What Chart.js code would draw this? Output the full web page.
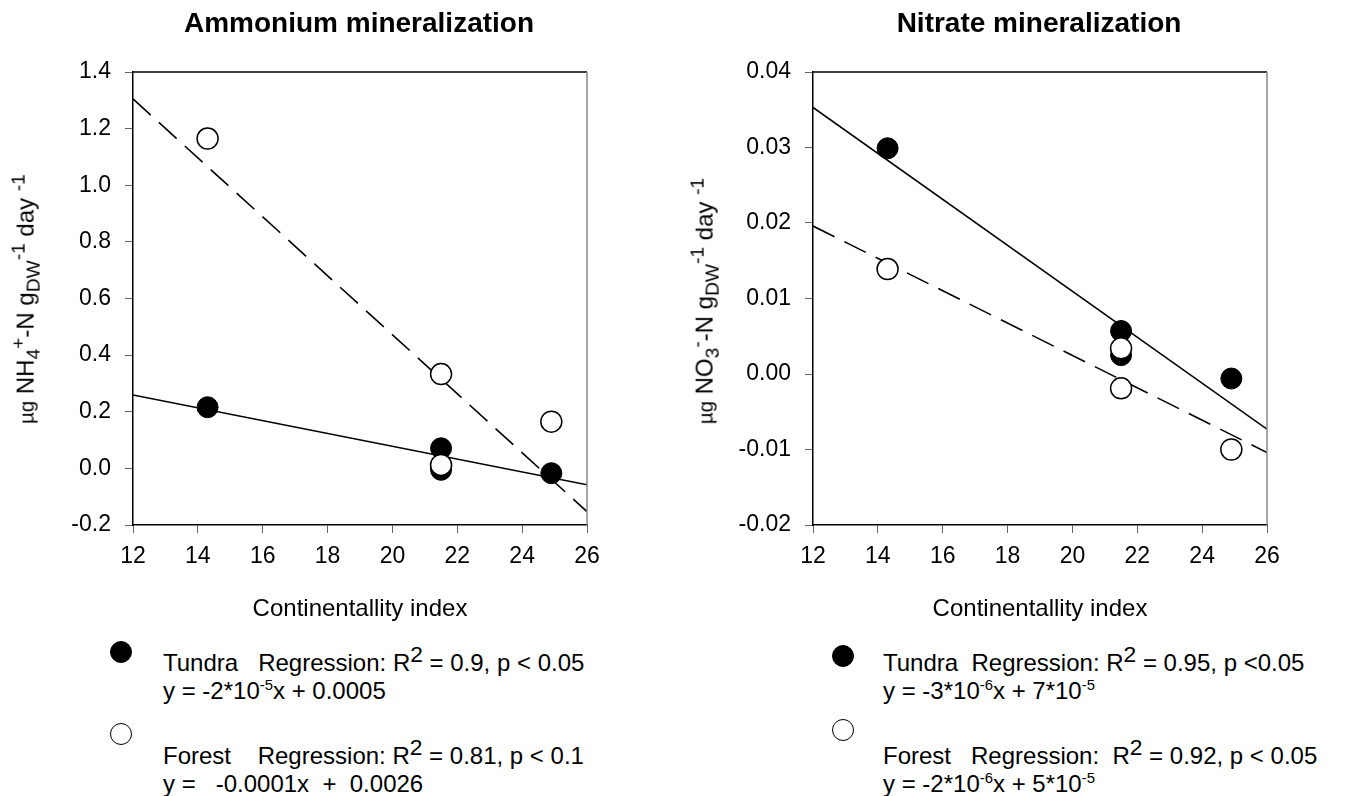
<!DOCTYPE html>
<html>
<head>
<meta charset="utf-8">
<script src="https://cdn.jsdelivr.net/npm/chart.js@4.4.1/dist/chart.umd.min.js"></script>
<style>
  body { margin: 0; background: #fff; font-family: Arial, "Liberation Sans", sans-serif; color: #000; }
  #page { position: relative; width: 1353px; height: 796px; overflow: hidden; }
  .panel { position: absolute; top: 0; width: 676px; height: 628px; }
  .titulo { position: absolute; top: 7px; font-weight: bold; font-size: 28px; transform: translateX(-50%); white-space: nowrap; }
  .ytitle { position: absolute; font-size: 24px; white-space: nowrap; transform: translate(-50%, -50%) rotate(-90deg); }
  .ytitle sub, .ytitle sup { font-size: 0.8em; }
  .mu { font-size: 0.85em; }
  .leyenda { position: absolute; font-size: 24px; line-height: 28px; white-space: nowrap; }
  .leyenda sup { font-size: 0.62em; line-height: 0; }
  .leyenda sup.big { font-size: 0.95em; }
  .marca { position: absolute; width: 20px; height: 20px; border-radius: 50%; border: 1.5px solid #000; transform: translate(-50%, -50%); }
</style>
</head>
<body>
<div id="page">
  <div class="panel" style="left:0"><canvas id="graficaNH4"></canvas></div>
  <div class="panel" style="left:680px"><canvas id="graficaNO3"></canvas></div>

  <div class="titulo" style="left:359px">Ammonium mineralization</div>
  <div class="titulo" style="left:1039px">Nitrate mineralization</div>

  <div class="ytitle" style="left:26px; top:299px"><span class="mu">µg</span> NH<sub>4</sub><sup>+</sup>-N g<sub>DW</sub><sup>-1</sup> day <sup>-1</sup></div>
  <div class="ytitle" style="left:705px; top:301px"><span class="mu">µg</span> NO<sub>3</sub><sup>-</sup>-N g<sub>DW</sub><sup>-1</sup> day <sup>-1</sup></div>

  <div class="marca" style="left:121px; top:652px; background:#000"></div>
  <div class="leyenda" style="left:163px; top:649px">Tundra&nbsp;&nbsp; Regression: R<sup class="big">2</sup> = 0.9, p &lt; 0.05<br>y = -2*10<sup>-5</sup>x + 0.0005</div>
  <div class="marca" style="left:121px; top:734px; background:#fff"></div>
  <div class="leyenda" style="left:163px; top:742px">Forest&nbsp;&nbsp;&nbsp; Regression: R<sup class="big">2</sup> = 0.81, p &lt; 0.1<br>y = &nbsp;&nbsp;-0.0001x &nbsp;+ &nbsp;0.0026</div>

  <div class="marca" style="left:843px; top:656px; background:#000"></div>
  <div class="leyenda" style="left:883px; top:649px">Tundra&nbsp; Regression: R<sup class="big">2</sup> = 0.95, p &lt;0.05<br>y = -3*10<sup>-6</sup>x + 7*10<sup>-5</sup></div>
  <div class="marca" style="left:843px; top:730px; background:#fff"></div>
  <div class="leyenda" style="left:883px; top:742px">Forest&nbsp;&nbsp; Regression:&nbsp; R<sup class="big">2</sup> = 0.92, p &lt; 0.05<br>y = -2*10<sup>-6</sup>x + 5*10<sup>-5</sup></div>
</div>

<script>
// indice de continentalidad de cada sitio
const xSitios = [14.3, 21.5, 21.5, 24.9];

// amonio (ug NH4+-N gDW-1 dia-1)
const nh4Tundra = [0.216, 0.071, -0.005, -0.017];
const nh4Bosque = [1.165, 0.333, 0.012, 0.165];

// nitrato (ug NO3--N gDW-1 dia-1)
const no3Tundra = [0.0299, 0.0057, 0.0025, -0.0006];
const no3Bosque = [0.0139, 0.0034, -0.0019, -0.0100];

const xRecta = [12, 26];
const nh4RectaTundra = [0.259, -0.058];
const nh4RectaBosque = [1.305, -0.153];
const no3RectaTundra = [0.0353, -0.0073];
const no3RectaBosque = [0.0196, -0.0104];

Chart.defaults.font.family = 'Arial, "Liberation Sans", sans-serif';
Chart.defaults.color = '#000';

const marco = {
    id: 'marco',
    afterDraw(chart) {
        const a = chart.chartArea;
        const c = chart.ctx;
        c.save();
        c.lineWidth = 1.5;
        c.strokeStyle = '#000';
        c.beginPath();
        c.moveTo(a.left, a.top);
        c.lineTo(a.right, a.top);
        c.stroke();
        c.strokeStyle = '#888';
        c.beginPath();
        c.moveTo(a.right, a.top);
        c.lineTo(a.right, a.bottom);
        c.stroke();
        c.restore();
    }
};

function puntos(xs, ys) {
    return xs.map((x, i) => ({ x: x, y: ys[i] }));
}

function crearGrafica(id, tundra, bosque, rectaTundra, rectaBosque, yMin, yMax, paso, decimales) {
    const ctx = document.getElementById(id).getContext('2d');
    return new Chart(ctx, {
        type: 'scatter',
        data: {
            datasets: [
                {
                    label: 'Forest',
                    data: puntos(xSitios, bosque),
                    pointRadius: 10.5,
                    pointBackgroundColor: '#fff',
                    pointBorderColor: '#000',
                    pointBorderWidth: 1.5,
                    order: 1
                },
                {
                    label: 'Tundra',
                    data: puntos(xSitios, tundra),
                    pointRadius: 10.5,
                    pointBackgroundColor: '#000',
                    pointBorderColor: '#000',
                    pointBorderWidth: 1,
                    order: 2
                },
                {
                    label: 'Forest regression',
                    data: puntos(xRecta, rectaBosque),
                    showLine: true,
                    pointRadius: 0,
                    borderColor: '#000',
                    borderWidth: 1.6,
                    borderDash: [24, 11],
                    order: 3
                },
                {
                    label: 'Tundra regression',
                    data: puntos(xRecta, rectaTundra),
                    showLine: true,
                    pointRadius: 0,
                    borderColor: '#000',
                    borderWidth: 1.6,
                    order: 4
                }
            ]
        },
        options: {
            responsive: true,
            maintainAspectRatio: false,
            animation: false,
            layout: { padding: { top: 72, right: 89, left: 0, bottom: 0 } },
            plugins: { legend: { display: false }, tooltip: { enabled: false } },
            scales: {
                x: {
                    type: 'linear',
                    min: 12,
                    max: 26,
                    afterFit: s => { s.height = 103; },
                    ticks: { stepSize: 2, padding: 10, font: { size: 23 }, color: '#000' },
                    grid: { drawOnChartArea: false, drawTicks: true, tickLength: 8, tickColor: '#666' },
                    border: { color: '#000', width: 1.5 },
                    title: { display: true, text: 'Continentallity index', font: { size: 24 }, color: '#000' }
                },
                y: {
                    min: yMin,
                    max: yMax,
                    afterFit: s => { s.width = 133; },
                    ticks: {
                        stepSize: paso,
                        padding: 14,
                        font: { size: 23 },
                        color: '#000',
                        callback: v => (Math.abs(v) < 1e-9 ? 0 : v).toFixed(decimales)
                    },
                    grid: { drawOnChartArea: false, drawTicks: true, tickLength: 8, tickColor: '#666' },
                    border: { color: '#000', width: 1.5 }
                }
            }
        },
        plugins: [marco]
    });
}

crearGrafica('graficaNH4', nh4Tundra, nh4Bosque, nh4RectaTundra, nh4RectaBosque, -0.2, 1.4, 0.2, 1);
crearGrafica('graficaNO3', no3Tundra, no3Bosque, no3RectaTundra, no3RectaBosque, -0.02, 0.04, 0.01, 2);
</script>
</body>
</html>
